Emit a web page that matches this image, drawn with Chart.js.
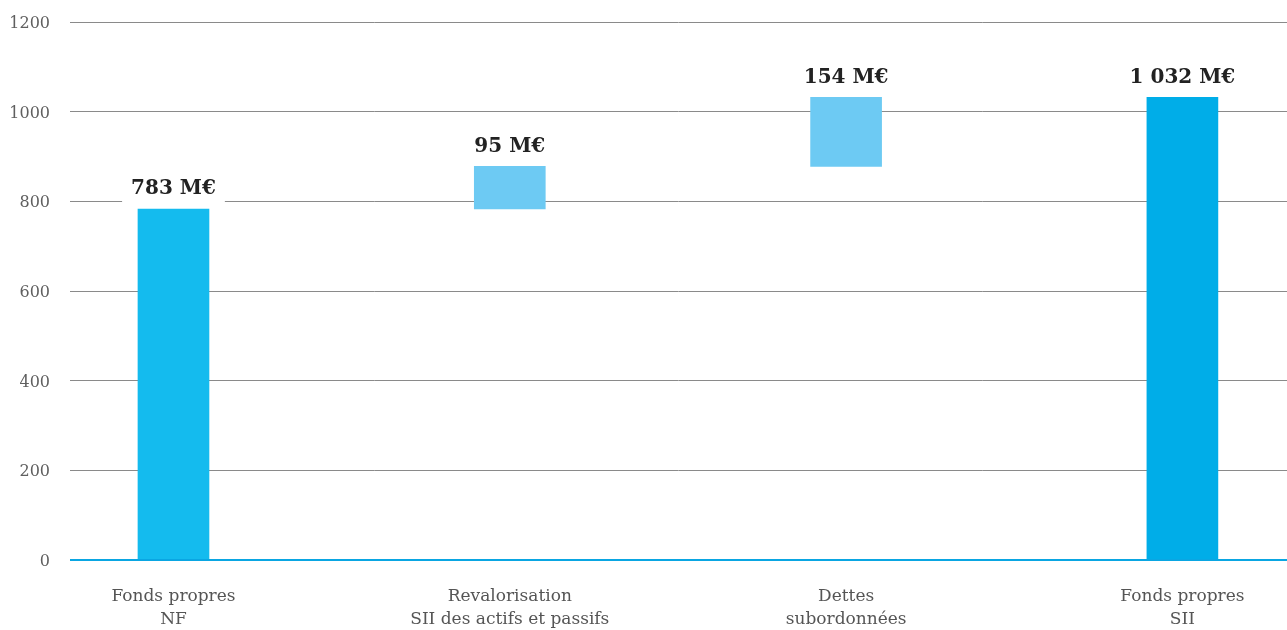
<!DOCTYPE html>
<html>
<head>
<meta charset="utf-8">
<script src="https://cdn.jsdelivr.net/npm/chart.js@4.4.0/dist/chart.umd.min.js"></script>
<style>
  html, body { margin: 0; padding: 0; background: #ffffff; }
  #wrap { width: 1287px; height: 630px; }
</style>
</head>
<body>
<div id="wrap"><canvas id="c" width="1287" height="630"></canvas></div>
<script>
// Bridge from NF own funds to Solvency II own funds (M€)
const categories = [
  ["Fonds propres", "NF"],
  ["Revalorisation", "SII des actifs et passifs"],
  ["Dettes", "subordonnées"],
  ["Fonds propres", "SII"]
];
const amounts = [783, 95, 154, 1032];
const labels = ["783 M€", "95 M€", "154 M€", "1 032 M€"];
const isTotal = [true, false, false, true];
const yTicks = [0, 200, 400, 600, 800, 1000, 1200];

const colors = ["#14bbee", "#6dcaf3", "#6dcaf3", "#00ade8"];

// Build floating ranges: totals start at zero, steps stack on the running sum
const ranges = [];
let running = 0;
amounts.forEach((v, i) => {
  if (isTotal[i]) { ranges.push([0, v]); running = v; }
  else { ranges.push([running, running + v]); running += v; }
});
const points = ranges.map((r, i) => ({ x: i, y: r }));

const FONT = "'DejaVu Serif', serif";

const valueLabels = {
  id: 'valueLabels',
  afterDatasetsDraw(chart) {
    const ctx = chart.ctx;
    const meta = chart.getDatasetMeta(0);
    ctx.save();
    ctx.font = "bold 20px " + FONT;
    ctx.textAlign = 'center';
    ctx.textBaseline = 'middle';
    meta.data.forEach((bar, i) => {
      const top = Math.min(bar.y, bar.base);
      const y = top - 21;
      const w = ctx.measureText(labels[i]).width;
      ctx.fillStyle = '#ffffff';
      ctx.fillRect(bar.x - w / 2 - 9, y - 14, w + 18, 31);
      ctx.fillStyle = '#222222';
      ctx.fillText(labels[i], bar.x, y + 1);
    });
    ctx.restore();
  }
};

const zeroLine = {
  id: 'zeroLine',
  afterDatasetsDraw(chart) {
    const ctx = chart.ctx;
    const y = chart.scales.y.getPixelForValue(0);
    ctx.save();
    ctx.strokeStyle = '#0aa6e2';
    ctx.lineWidth = 2;
    ctx.beginPath();
    ctx.moveTo(chart.chartArea.left, y);
    ctx.lineTo(chart.chartArea.right, y);
    ctx.stroke();
    ctx.restore();
  }
};

new Chart(document.getElementById('c'), {
  type: 'bar',
  data: {
    datasets: [{
      data: points,
      backgroundColor: colors,
      borderWidth: 0,
      barThickness: 71
    }]
  },
  options: {
    responsive: false,
    animation: false,
    layout: { padding: { top: 22, right: 0, left: 0, bottom: 0 } },
    plugins: { legend: { display: false }, tooltip: { enabled: false } },
    scales: {
      x: {
        type: 'linear',
        offset: false,
        min: -0.3077,
        max: 3.311,
        afterBuildTicks(scale) { scale.ticks = categories.map((c, i) => ({ value: i })); },
        afterFit(scale) { scale.height = 70; scale.paddingLeft = 0; scale.paddingRight = 0; },
        grid: { display: false, drawTicks: false },
        border: { display: false },
        ticks: {
          callback: (v) => categories[v],
          font: { family: FONT, size: 17, lineHeight: 1.3 },
          color: '#555555',
          padding: 26,
          maxRotation: 0,
          autoSkip: false
        }
      },
      y: {
        min: 0,
        max: 1200,
        afterBuildTicks(scale) { scale.ticks = yTicks.map(v => ({ value: v })); },
        afterFit(scale) { scale.width = 70; scale.paddingTop = 0; scale.paddingBottom = 0; },
        grid: { color: '#8a8a8a', lineWidth: 1, drawTicks: false },
        border: { display: false },
        ticks: {
          callback: (v) => String(v),
          font: { family: FONT, size: 16 },
          color: '#5f5f5f',
          padding: 20,
          labelOffset: 2
        }
      }
    }
  },
  plugins: [valueLabels, zeroLine]
});
</script>
</body>
</html>
